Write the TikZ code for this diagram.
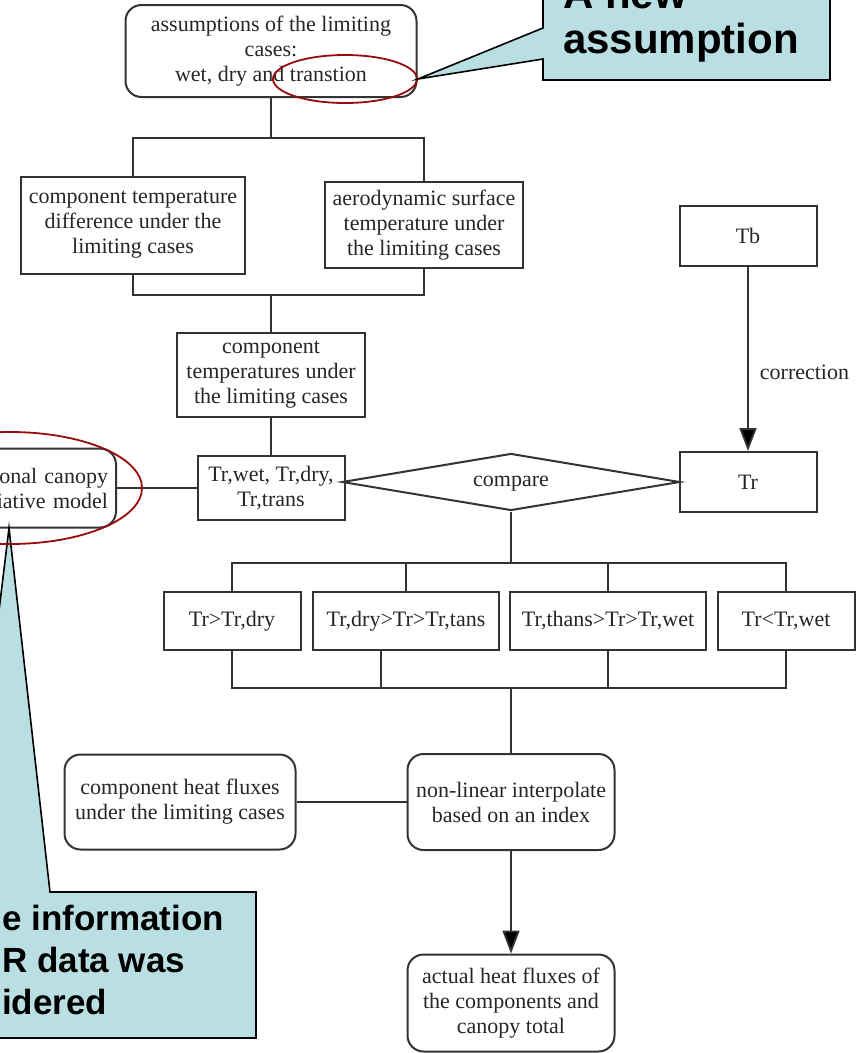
\documentclass[tikz,border=0pt]{standalone}
\usepackage{fontspec}
\setmainfont{Liberation Serif}
\newfontfamily\notefont{Liberation Sans}
\usetikzlibrary{shapes.geometric,arrows.meta}
\definecolor{noteblue}{RGB}{185,223,227}
\definecolor{markred}{RGB}{150,12,12}

\begin{document}
\begin{tikzpicture}[x=1pt,y=-1pt,
    box/.style={draw=black!80,line width=2pt,text=black!85,
      font=\fontsize{22}{25}\selectfont,align=center,inner sep=0pt},
    rbox/.style={box,rounded corners=16pt},
    line/.style={draw=black!80,line width=1.8pt},
    flow/.style={line,-{Triangle[length=23pt,width=17pt]}},
    ring/.style={draw=markred,line width=1.8pt,ellipse,inner sep=0pt},
    note/.style={fill=noteblue,draw=black,line width=1.6pt},
    notetext/.style={font=\notefont\bfseries\fontsize{42}{45}\selectfont,
      align=left,inner sep=0pt,anchor=base west}]
    \useasboundingbox (0,0) rectangle (856,1053);
    \node[rbox,minimum width=291pt,minimum height=92pt] (assum) at (271,51)
    {assumptions of the limiting\\cases:\\wet, dry and transtion};
    \node[box,minimum width=224pt,minimum height=97pt] (ctd) at (133,225)
    {component temperature\\difference under the\\limiting cases};
    \node[box,minimum width=198pt,minimum height=86pt] (aero) at (424,225)
    {aerodynamic surface\\temperature under\\the limiting cases};
    \node[box,minimum width=188pt,minimum height=84pt] (ctl) at (271,375)
    {component\\temperatures under\\the limiting cases};
    \node[box,minimum width=147pt,minimum height=64pt] (trs) at (271,488)
    {Tr,wet, Tr,dry,\\Tr,trans};
    \node[rbox,minimum width=176pt,minimum height=79pt,text width=160pt,
      align=right] (dcr) at (28,488) {onal canopy\\iative model};
    \node[box,diamond,aspect=6,minimum width=338pt,minimum height=57pt,
      text depth=2pt] (cmp) at (511,482) {compare};
    \node[box,minimum width=137pt,minimum height=60pt] (tr) at (748,482) {Tr};
    \node[box,minimum width=137pt,minimum height=60pt] (tb) at (748,236) {Tb};
    \node[box,minimum width=137pt,minimum height=58pt] (gtdry) at (232,621)
    {Tr>Tr,dry};
    \node[box,minimum width=186pt,minimum height=58pt] (drytans) at (406,621)
    {Tr,dry>Tr>Tr,tans};
    \node[box,minimum width=196pt,minimum height=58pt] (thanswet) at (608,621)
    {Tr,thans>Tr>Tr,wet};
    \node[box,minimum width=137pt,minimum height=58pt] (ltwet) at (786,621)
    {Tr<Tr,wet};
    \node[rbox,minimum width=231pt,minimum height=95pt] (chf) at (180,802)
    {component heat fluxes\\under the limiting cases};
    \node[rbox,minimum width=207pt,minimum height=96pt] (interp) at (511,802)
    {non-linear interpolate\\based on an index};
    \node[rbox,minimum width=207pt,minimum height=97pt] (act) at (511,1003)
    {actual heat fluxes of\\the components and\\canopy total};
    \coordinate (fork) at (271,138);
    \coordinate (join) at (271,295);
    \coordinate (split) at (511,563);
    \coordinate (merge) at (511,688);
    \path[line] (assum) -- (fork) (ctd.north) |- (fork) -| (aero.north)
    (ctd.south) |- (join) -| (aero.south) (join) -- (ctl) (ctl) -- (trs)
    (dcr) -- (trs);
    \path[flow] (tb) edge node[right=11pt,pos=0.57,inner sep=0pt,
      text=black!85,font=\fontsize{22}{25}\selectfont] (corr) {correction} (tr);
    \path[line] (cmp.south) -- (split) (gtdry.north) |- (split) -| (ltwet.north)
    (drytans.north) -- (drytans.north |- split)
    (thanswet.north) -- (thanswet.north |- split)
    (gtdry.south) |- (merge) -| (ltwet.south)
    ([xshift=-25pt]drytans.south) -- ([xshift=-25pt]drytans.south |- merge)
    (thanswet.south) -- (thanswet.south |- merge)
    (merge) -- (interp) (chf) -- (interp);
    \path[flow] (interp) edge (act);
    % notes
    \node[ring,minimum width=144pt,minimum height=48pt] (newmark) at (345,79) {};
    \coordinate (tirtip) at (9,528);
    \path[note] (543,-60) -- (543,28) -- (newmark.east) -- (543,59) -- (543,80)
    -- (830,80) -- (830,-60) -- cycle;
    \path[note] (-60,892) -- (-35,892) -- (tirtip) -- (50,892) -- (256,892)
    -- (256,1038) -- (-60,1038) -- cycle;
    \node[notetext] (newtxt) at (563,53) {A new\\assumption};
    \node[notetext,font=\notefont\bfseries\fontsize{35}{42}\selectfont]
    (tirtxt) at (2,1014) {e information\\R data was\\idered};
    \node[ring,minimum width=264pt,minimum height=112pt] (tirmark) at (10,488) {};
\end{tikzpicture}
\end{document}
